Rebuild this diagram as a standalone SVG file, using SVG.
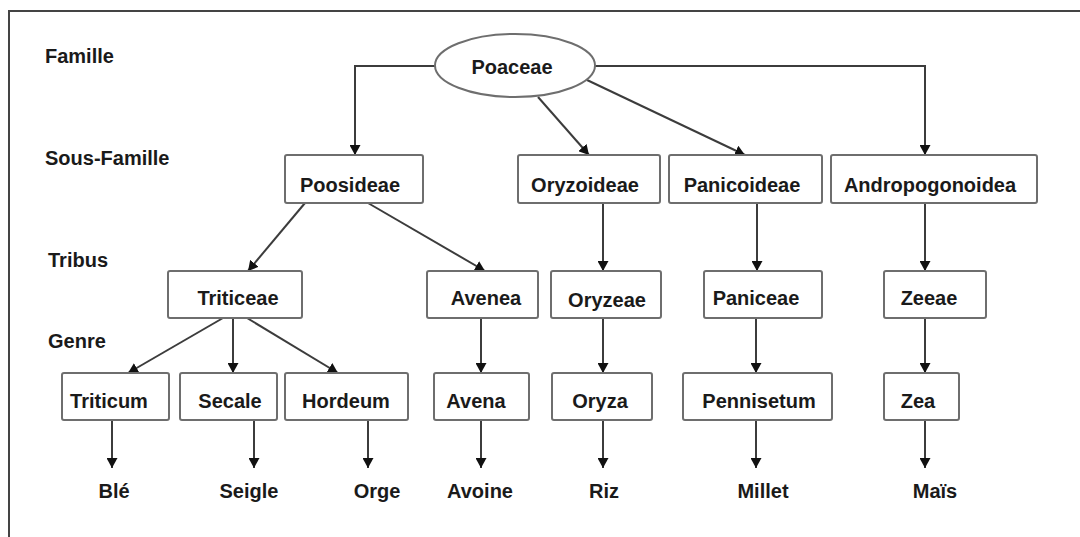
<svg xmlns="http://www.w3.org/2000/svg" width="1080" height="537" viewBox="0 0 1080 537">
<style>
.t{font-family:"Liberation Sans",Arial,sans-serif;font-weight:bold;font-size:20px;fill:#1a1a1a}
.m{text-anchor:middle}
.box{fill:#fff;stroke:#6e6e6e;stroke-width:2}
.c{fill:none;stroke:#3c3c3c;stroke-width:2;marker-end:url(#ah)}
</style>
<defs>
<marker id="ah" markerUnits="userSpaceOnUse" markerWidth="11" markerHeight="11" refX="10" refY="5.5" orient="auto">
<path d="M0,0 L10,5.5 L0,11 z" fill="#111"/>
</marker>
</defs>
<rect width="1080" height="537" fill="#fff"/>
<path d="M1082,11 H9 V540" fill="none" stroke="#444" stroke-width="2"/>
<g id="levels">
<text class="t" x="45" y="63">Famille</text>
<text class="t" x="45" y="165">Sous-Famille</text>
<text class="t" x="48" y="267">Tribus</text>
<text class="t" x="48" y="348">Genre</text>
</g>
<g id="connectors">
<path class="c" d="M435,66 H355 V155"/>
<path class="c" d="M595,66 H925 V155"/>
<path class="c" d="M538,97 L589,155"/>
<path class="c" d="M587,80 L745,155"/>
<path class="c" d="M305,203 L248,271"/>
<path class="c" d="M368,203 L485,271"/>
<path class="c" d="M603,203 V271"/>
<path class="c" d="M757,203 V271"/>
<path class="c" d="M925,203 V271"/>
<path class="c" d="M223,318 L128,373"/>
<path class="c" d="M233,318 V373"/>
<path class="c" d="M247,318 L338,373"/>
<path class="c" d="M481,318 V373"/>
<path class="c" d="M603,318 V373"/>
<path class="c" d="M756,318 V373"/>
<path class="c" d="M925,318 V373"/>
<path class="c" d="M112,421 V468"/>
<path class="c" d="M254,421 V468"/>
<path class="c" d="M368,421 V468"/>
<path class="c" d="M481,421 V468"/>
<path class="c" d="M603,421 V468"/>
<path class="c" d="M756,421 V468"/>
<path class="c" d="M925,421 V468"/>
</g>
<g id="poaceae"><ellipse cx="515" cy="65.5" rx="80" ry="31.5" fill="#fff" stroke="#6e6e6e" stroke-width="2"/><text class="t m" x="512" y="74">Poaceae</text></g>
<g id="poosideae"><rect class="box" x="285" y="155" width="138" height="48" rx="2"/><text class="t m" x="350" y="192">Poosideae</text></g>
<g id="oryzoideae"><rect class="box" x="518" y="155" width="142" height="48" rx="2"/><text class="t m" x="585" y="192">Oryzoideae</text></g>
<g id="panicoideae"><rect class="box" x="669" y="155" width="153" height="48" rx="2"/><text class="t m" x="742" y="192">Panicoideae</text></g>
<g id="andropogonoidea"><rect class="box" x="831" y="155" width="206" height="48" rx="2"/><text class="t m" x="930" y="192">Andropogonoidea</text></g>
<g id="triticeae"><rect class="box" x="168" y="271" width="134" height="47" rx="2"/><text class="t m" x="238" y="305">Triticeae</text></g>
<g id="avenea"><rect class="box" x="427" y="271" width="111" height="47" rx="2"/><text class="t m" x="486" y="305">Avenea</text></g>
<g id="oryzeae"><rect class="box" x="551" y="271" width="110" height="47" rx="2"/><text class="t m" x="607" y="307">Oryzeae</text></g>
<g id="paniceae"><rect class="box" x="704" y="271" width="118" height="47" rx="2"/><text class="t m" x="756" y="305">Paniceae</text></g>
<g id="zeeae"><rect class="box" x="884" y="271" width="102" height="47" rx="2"/><text class="t m" x="929" y="305">Zeeae</text></g>
<g id="triticum"><rect class="box" x="62" y="373" width="107" height="47" rx="2"/><text class="t m" x="109" y="408">Triticum</text></g>
<g id="secale"><rect class="box" x="180" y="373" width="97" height="47" rx="2"/><text class="t m" x="230" y="408">Secale</text></g>
<g id="hordeum"><rect class="box" x="285" y="373" width="123" height="47" rx="2"/><text class="t m" x="346" y="408">Hordeum</text></g>
<g id="avena"><rect class="box" x="434" y="373" width="95" height="47" rx="2"/><text class="t m" x="476" y="408">Avena</text></g>
<g id="oryza"><rect class="box" x="552" y="373" width="100" height="47" rx="2"/><text class="t m" x="600" y="408">Oryza</text></g>
<g id="pennisetum"><rect class="box" x="683" y="373" width="149" height="47" rx="2"/><text class="t m" x="759" y="408">Pennisetum</text></g>
<g id="zea"><rect class="box" x="884" y="373" width="75" height="47" rx="2"/><text class="t m" x="918" y="408">Zea</text></g>
<g id="ble"><text class="t m" x="114" y="498">Blé</text></g>
<g id="seigle"><text class="t m" x="249" y="498">Seigle</text></g>
<g id="orge"><text class="t m" x="377" y="498">Orge</text></g>
<g id="avoine"><text class="t m" x="480" y="498">Avoine</text></g>
<g id="riz"><text class="t m" x="604" y="498">Riz</text></g>
<g id="millet"><text class="t m" x="763" y="498">Millet</text></g>
<g id="mais"><text class="t m" x="935" y="498">Maïs</text></g>
</svg>
